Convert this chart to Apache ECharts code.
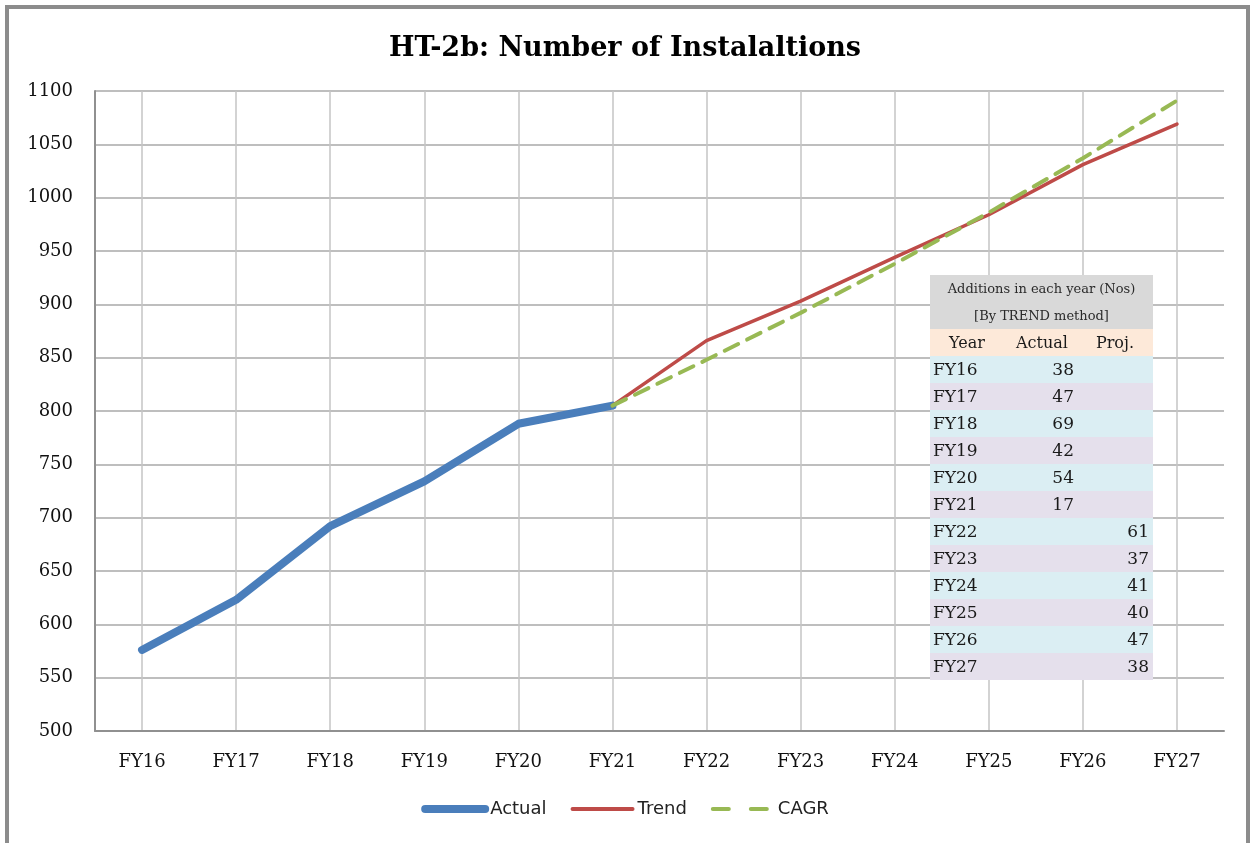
<!DOCTYPE html>
<html>
<head>
<meta charset="utf-8">
<title>HT-2b: Number of Instalaltions</title>
<script src="https://cdn.jsdelivr.net/npm/echarts@6/dist/echarts.min.js"></script>
<style>
  html, body { margin: 0; padding: 0; background: #fff; }
  #main { width: 1250px; height: 843px; }
</style>
</head>
<body>
<div id="main"></div>
<script>
// chart data
var years = ['FY16', 'FY17', 'FY18', 'FY19', 'FY20', 'FY21', 'FY22', 'FY23', 'FY24', 'FY25', 'FY26', 'FY27']
var actual = [576, 623, 692, 734, 788, 805, null, null, null, null, null, null]
var trend = [null, null, null, null, null, 805, 866, 903, 944, 984, 1031, 1069]
var cagr = [null, null, null, null, null, 805, 848, 892, 938, 986, 1037, 1091]

// table inside the chart
var tableTitle = ['Additions in each year (Nos)', '[By TREND method]']
var tableHead = ['Year', 'Actual', 'Proj.']
var addActual = [38, 47, 69, 42, 54, 17, null, null, null, null, null, null]
var addProj = [null, null, null, null, null, null, 61, 37, 41, 40, 47, 38]

var serif = 'DejaVu Serif'
var colors = { actual: '#4a7ebb', trend: '#be4b48', cagr: '#98b954' }

// build the table graphic (drawn above the grid lines)
function buildTable () {
  var x0 = 930
  var w = 223
  var y0 = 275
  var rh = 27
  var items = []
  var add = function (el) {
    el.z = 100
    el.silent = true
    items.push(el)
  }
  // gray title rows
  add({ type: 'rect', shape: { x: x0, y: y0, width: w, height: rh * 2 }, style: { fill: '#d9d9d9' } })
  tableTitle.forEach(function (t, i) {
    add({
      type: 'text',
      style: { text: t, x: x0 + w / 2, y: y0 + rh * i + rh / 2 + 1, align: 'center', verticalAlign: 'middle', font: '13px "' + serif + '"', fill: '#2a2a2a' }
    })
  })
  // header row
  var hy = y0 + rh * 2
  add({ type: 'rect', shape: { x: x0, y: hy, width: w, height: rh }, style: { fill: '#fde9d9' } })
  var headX = [967, 1042, 1115]
  tableHead.forEach(function (t, i) {
    add({
      type: 'text',
      style: { text: t, x: headX[i], y: hy + rh / 2 + 1, align: 'center', verticalAlign: 'middle', font: '16px "' + serif + '"', fill: '#1a1a1a' }
    })
  })
  // data rows
  years.forEach(function (yr, i) {
    var ry = hy + rh * (i + 1)
    add({ type: 'rect', shape: { x: x0, y: ry, width: w, height: rh }, style: { fill: i % 2 === 0 ? '#dbeef3' : '#e5e0ec' } })
    add({ type: 'text', style: { text: yr, x: x0 + 3, y: ry + rh / 2 + 1, align: 'left', verticalAlign: 'middle', font: '17px "' + serif + '"', fill: '#1a1a1a' } })
    if (addActual[i] != null) {
      add({ type: 'text', style: { text: String(addActual[i]), x: 1074, y: ry + rh / 2 + 1, align: 'right', verticalAlign: 'middle', font: '17px "' + serif + '"', fill: '#1a1a1a' } })
    }
    if (addProj[i] != null) {
      add({ type: 'text', style: { text: String(addProj[i]), x: 1149, y: ry + rh / 2 + 1, align: 'right', verticalAlign: 'middle', font: '17px "' + serif + '"', fill: '#1a1a1a' } })
    }
  })
  return items
}

var chart = echarts.init(document.getElementById('main'))
var option = {
  backgroundColor: '#fff',
  animation: false,
  title: {
    text: 'HT-2b: Number of Instalaltions',
    left: 'center',
    top: 30,
    textStyle: { fontFamily: serif, fontWeight: 'bold', fontSize: 27, color: '#000' }
  },
  legend: {
    bottom: 20,
    left: 'center',
    itemWidth: 60,
    itemHeight: 14,
    itemGap: 24,
    itemStyle: { opacity: 0 },
    textStyle: { fontFamily: 'DejaVu Sans', fontSize: 18, color: '#222' },
    data: [
      { name: 'Actual', lineStyle: { width: 8, color: colors.actual, cap: 'round' } },
      { name: 'Trend', lineStyle: { width: 4, color: colors.trend } },
      { name: 'CAGR', lineStyle: { width: 4, color: colors.cagr, type: [16, 22], cap: 'round' } }
    ]
  },
  grid: { left: 95, right: 26, top: 91, bottom: 112 },
  xAxis: {
    type: 'category',
    data: years,
    boundaryGap: true,
    axisLine: { lineStyle: { color: '#909090', width: 2 } },
    axisTick: { show: false },
    axisLabel: { margin: 22, fontFamily: serif, fontSize: 18, color: '#111' },
    splitLine: { show: true, alignWithLabel: true, lineStyle: { color: '#c4c4c4', width: 1.5 } }
  },
  yAxis: {
    type: 'value',
    min: 500,
    max: 1100,
    interval: 50,
    axisLine: { show: true, lineStyle: { color: '#909090', width: 2 } },
    axisTick: { show: false },
    axisLabel: {
      margin: 22,
      fontFamily: serif,
      fontSize: 18,
      color: '#111',
      formatter: function (v) { return String(v) }
    },
    splitLine: { lineStyle: { color: '#a8a8a8', width: 1.5 } }
  },
  series: [
    {
      name: 'Actual',
      type: 'line',
      data: actual,
      symbol: 'none',
      color: colors.actual,
      lineStyle: { width: 8, color: colors.actual, cap: 'round', join: 'round' }
    },
    {
      name: 'Trend',
      type: 'line',
      data: trend,
      symbol: 'none',
      color: colors.trend,
      lineStyle: { width: 3.5, color: colors.trend, cap: 'round' }
    },
    {
      name: 'CAGR',
      type: 'line',
      data: cagr,
      symbol: 'none',
      color: colors.cagr,
      lineStyle: { width: 4, color: colors.cagr, type: [15, 10], cap: 'round' }
    }
  ],
  graphic: [
    {
      type: 'rect',
      silent: true,
      z: 100,
      shape: { x: 7, y: 7, width: 1241, height: 860 },
      style: { fill: 'none', stroke: '#8c8c8c', lineWidth: 4 }
    },
    {
      type: 'group',
      silent: true,
      z: 100,
      children: buildTable()
    }
  ]
}
chart.setOption(option)
</script>
</body>
</html>
